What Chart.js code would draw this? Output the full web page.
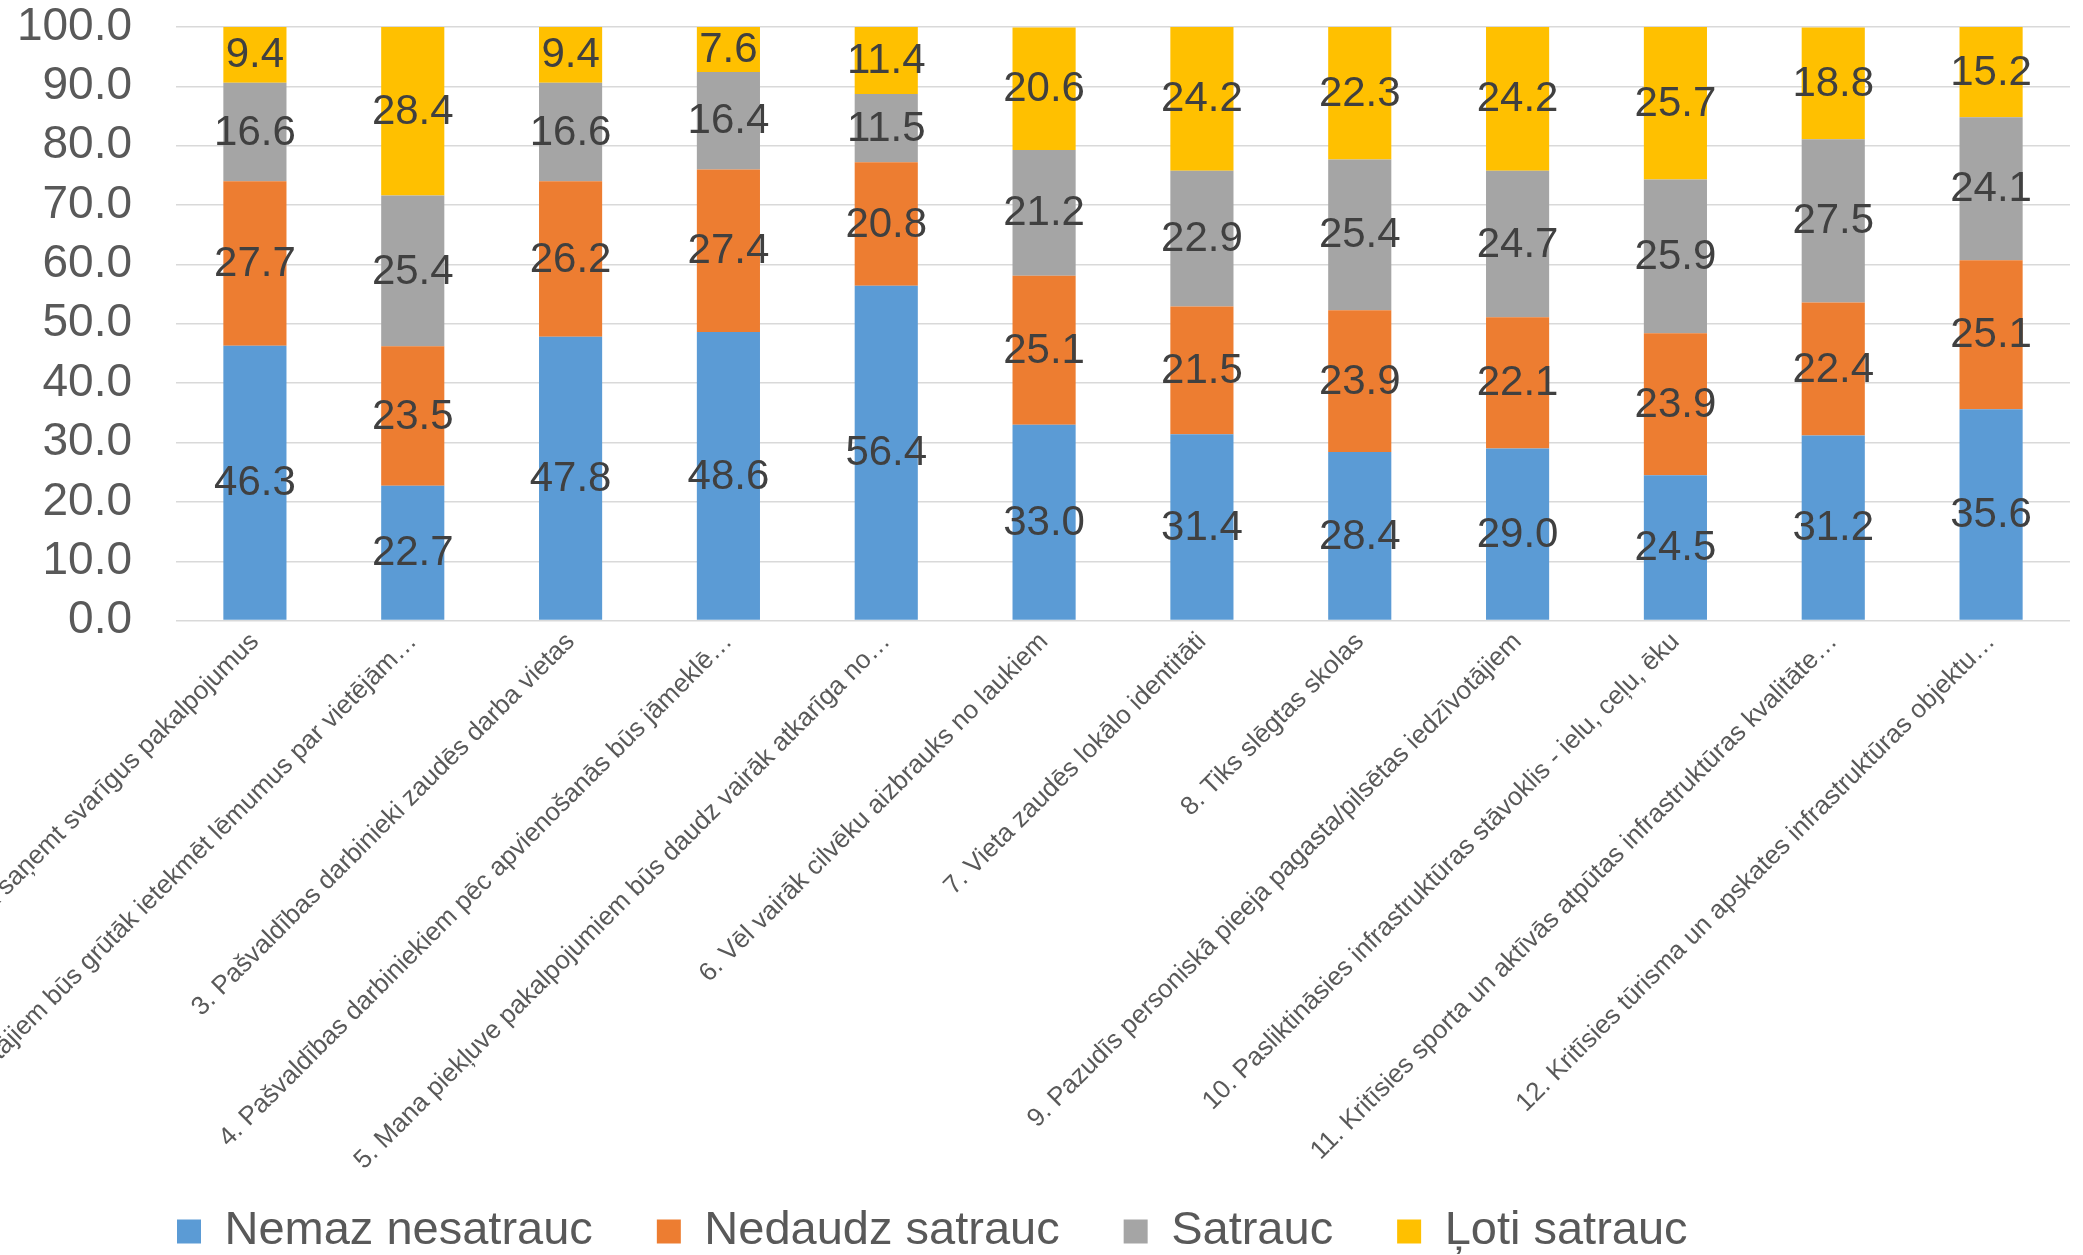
<!DOCTYPE html>
<html lang="lv">
<head>
<meta charset="utf-8">
<title>Bažas par apvienošanu</title>
<script src="https://cdn.jsdelivr.net/npm/chart.js@4/dist/chart.umd.min.js"></script>
<style>
  html, body { margin: 0; padding: 0; background: #ffffff; }
  #wrap { width: 2083px; height: 1255px; position: relative; }
</style>
</head>
<body>
<div id="wrap"><canvas id="worryChart"></canvas></div>
<script>
// Chart data (percent of respondents)
const categories = [
    '1. Būs grūtāk saņemt svarīgus pakalpojumus',
    '2. Iedzīvotājiem būs grūtāk ietekmēt lēmumus par vietējām…',
    '3. Pašvaldības darbinieki zaudēs darba vietas',
    '4. Pašvaldības darbiniekiem pēc apvienošanās būs jāmeklē…',
    '5. Mana piekļuve pakalpojumiem būs daudz vairāk atkarīga no…',
    '6. Vēl vairāk cilvēku aizbrauks no laukiem',
    '7. Vieta zaudēs lokālo identitāti',
    '8. Tiks slēgtas skolas',
    '9. Pazudīs personiskā pieeja pagasta/pilsētas iedzīvotājiem',
    '10. Pasliktināsies infrastruktūras stāvoklis - ielu, ceļu, ēku',
    '11. Kritīsies sporta un aktīvās atpūtas infrastruktūras kvalitāte…',
    '12. Kritīsies tūrisma un apskates infrastruktūras objektu…'
];
const seriesNames = ['Nemaz nesatrauc', 'Nedaudz satrauc', 'Satrauc', 'Ļoti satrauc'];
const notWorried = [46.3, 22.7, 47.8, 48.6, 56.4, 33.0, 31.4, 28.4, 29.0, 24.5, 31.2, 35.6];
const slightlyWorried = [27.7, 23.5, 26.2, 27.4, 20.8, 25.1, 21.5, 23.9, 22.1, 23.9, 22.4, 25.1];
const worried = [16.6, 25.4, 16.6, 16.4, 11.5, 21.2, 22.9, 25.4, 24.7, 25.9, 27.5, 24.1];
const veryWorried = [9.4, 28.4, 9.4, 7.6, 11.4, 20.6, 24.2, 22.3, 24.2, 25.7, 18.8, 15.2];
const yTicks = [0, 10, 20, 30, 40, 50, 60, 70, 80, 90, 100];

const seriesColors = ['#5b9bd5', '#ed7d31', '#a5a5a5', '#ffc000'];
const FONT = "'Liberation Sans', Arial, sans-serif";
const LEGEND_PAD = 64;

Chart.defaults.font.family = FONT;
Chart.defaults.color = '#595959';

// Value labels in the middle of every bar segment
const segmentLabels = {
    id: 'segmentLabels',
    afterDatasetsDraw(chart) {
        const ctx = chart.ctx;
        ctx.save();
        ctx.font = '42px ' + FONT;
        ctx.fillStyle = '#404040';
        ctx.textAlign = 'center';
        ctx.textBaseline = 'middle';
        chart.data.datasets.forEach((ds, i) => {
            chart.getDatasetMeta(i).data.forEach((bar, j) => {
                const p = bar.getProps(['x', 'y', 'base'], true);
                ctx.fillText(ds.data[j].toFixed(1), p.x, (p.y + p.base) / 2 + 1);
            });
        });
        ctx.restore();
    }
};

// Legend sits under the rotated labels, starting at the plot's left edge
const legendPlace = {
    id: 'legendPlace',
    beforeDraw(chart) {
        const lg = chart.legend;
        if (!lg) return;
        lg.left = chart.chartArea.left - LEGEND_PAD + 1;
        lg.top = chart.height - LEGEND_PAD - 47;
    }
};

const datasets = [notWorried, slightlyWorried, worried, veryWorried].map((values, i) => ({
    label: seriesNames[i],
    data: values,
    backgroundColor: seriesColors[i],
    borderWidth: 0,
    barPercentage: 0.4,
    categoryPercentage: 1.0
}));

new Chart(document.getElementById('worryChart'), {
    type: 'bar',
    data: { labels: categories, datasets: datasets },
    plugins: [segmentLabels, legendPlace],
    options: {
        responsive: true,
        maintainAspectRatio: false,
        animation: false,
        layout: { padding: { left: 0, right: 13, top: 27, bottom: 0 } },
        plugins: {
            tooltip: { enabled: false },
            legend: {
                position: 'bottom',
                align: 'start',
                maxHeight: 73,
                labels: {
                    boxWidth: 24,
                    boxHeight: 24,
                    padding: LEGEND_PAD,
                    color: '#595959',
                    font: { size: 47 }
                }
            }
        },
        scales: {
            x: {
                stacked: true,
                grid: { display: false, drawTicks: false },
                border: { display: false },
                ticks: {
                    autoSkip: false,
                    maxRotation: 45,
                    minRotation: 45,
                    padding: 6,
                    color: '#595959',
                    font: { size: 26 }
                },
                // let the first long label run off the canvas like the original
                afterFit(scale) {
                    scale.paddingLeft = 0;
                    scale.paddingRight = 0;
                }
            },
            y: {
                stacked: true,
                min: 0,
                max: 100,
                afterBuildTicks(scale) {
                    scale.ticks = yTicks.map(v => ({ value: v }));
                },
                grid: { color: '#d9d9d9', lineWidth: 1.5, drawTicks: false },
                border: { display: false },
                ticks: {
                    autoSkip: false,
                    padding: 44,
                    color: '#595959',
                    font: { size: 46 },
                    callback: (v) => Number(v).toFixed(1)
                },
                afterFit(scale) {
                    scale.width = 176;
                    scale.paddingTop = 0;
                    scale.paddingBottom = 0;
                }
            }
        }
    }
});
</script>
</body>
</html>
